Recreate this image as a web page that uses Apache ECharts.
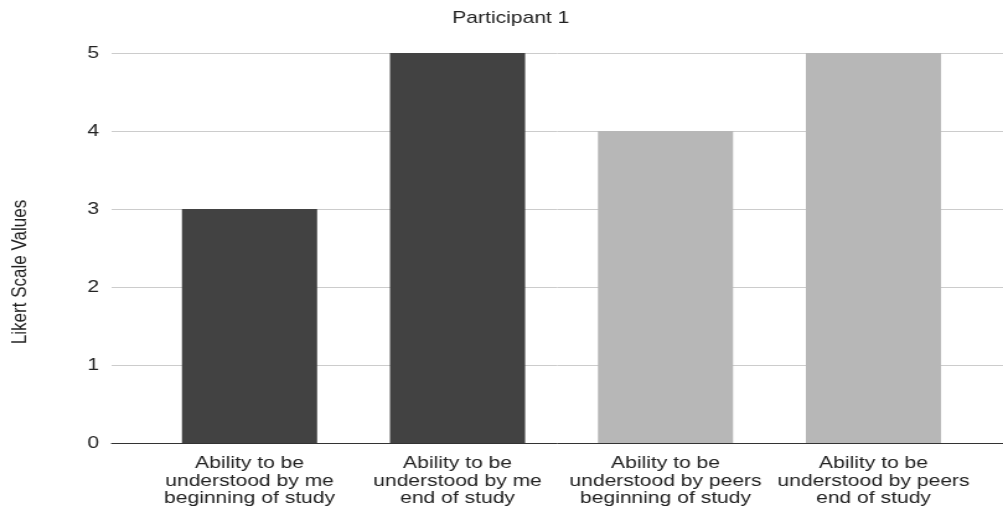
<!DOCTYPE html>
<html>
<head>
<meta charset="utf-8">
<script src="https://cdn.jsdelivr.net/npm/echarts@6/dist/echarts.min.js"></script>
<style>
  html, body { margin: 0; padding: 0; background: #fff; overflow: hidden; }
  /* the chart is laid out narrower and widened, giving the broad lettering */
  #chart { width: 809px; height: 510px; transform: scaleX(1.2398); transform-origin: 0 0; }
</style>
</head>
<body>
<div id="chart"></div>
<script>
// Survey answers for one participant, on a 0–5 Likert scale
const categories = [
  'Ability to be\nunderstood by me\nbeginning of study',
  'Ability to be\nunderstood by me\nend of study',
  'Ability to be\nunderstood by peers\nbeginning of study',
  'Ability to be\nunderstood by peers\nend of study'
];
const values = [3, 5, 4, 5];
const barColors = ['#424242', '#424242', '#b7b7b7', '#b7b7b7'];
const yTicks = [0, 1, 2, 3, 4, 5];

const font = 'Arial, "Liberation Sans", sans-serif';
const chart = echarts.init(document.getElementById('chart'));

chart.setOption({
  animation: false,
  title: {
    text: 'Participant 1',
    left: 407,
    textAlign: 'center',
    top: 5,
    textStyle: { fontFamily: font, fontSize: 17, fontWeight: 'normal', color: '#222' }
  },
  grid: [
    // grid for the bars and category labels
    { left: 117.4, right: 20.6, top: 53, bottom: 67 },
    // wider grid carrying the gridlines, baseline and value labels
    { left: 88.7, right: 0, top: 53, bottom: 67 }
  ],
  xAxis: [
    {
      type: 'category',
      gridIndex: 0,
      data: categories,
      axisLine: { show: false },
      axisTick: { show: false },
      axisLabel: {
        interval: 0,
        margin: 12,
        fontFamily: font,
        fontSize: 17,
        lineHeight: 17.5,
        color: '#222',
        align: 'center'
      }
    },
    {
      type: 'value',
      gridIndex: 1,
      min: 0, max: 1,
      show: true,
      axisLine: { show: true, onZero: false, lineStyle: { color: '#333', width: 1 } },
      axisTick: { show: false },
      axisLabel: { show: false },
      splitLine: { show: false }
    }
  ],
  yAxis: [
    {
      type: 'value',
      gridIndex: 0,
      min: 0, max: 5, interval: 1,
      axisLine: { show: false },
      axisTick: { show: false },
      axisLabel: { show: false },
      splitLine: { show: false }
    },
    {
      type: 'value',
      gridIndex: 1,
      min: yTicks[0], max: yTicks[yTicks.length - 1], interval: 1,
      name: 'Likert Scale Values',
      nameLocation: 'middle',
      nameGap: 65,
      nameRotate: 90,
      nameTextStyle: { fontFamily: font, fontSize: 17, color: '#222', padding: [0, 0, 0, -48] },
      axisLine: { show: false },
      axisTick: { show: false },
      axisLabel: { margin: 10, fontFamily: font, fontSize: 17, color: '#222' },
      splitLine: { show: true, lineStyle: { color: '#cccccc', width: 1 } }
    }
  ],
  series: [
    {
      type: 'bar',
      xAxisIndex: 0,
      yAxisIndex: 0,
      barWidth: '65%',
      z: 3,
      data: values.map((v, i) => ({ value: v, itemStyle: { color: barColors[i] } }))
    }
  ]
});
</script>
</body>
</html>
